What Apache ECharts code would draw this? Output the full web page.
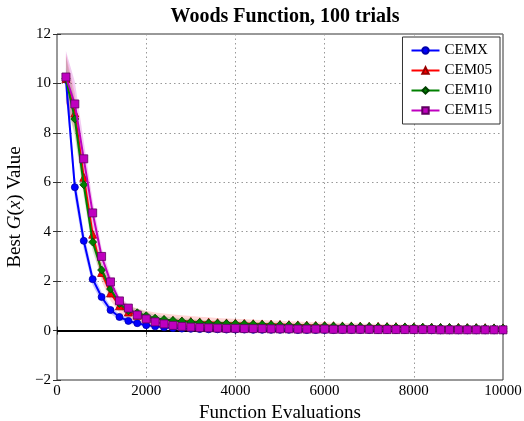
<!DOCTYPE html>
<html>
<head>
<meta charset="utf-8">
<script src="https://cdn.jsdelivr.net/npm/echarts@6/dist/echarts.min.js"></script>
<style>html,body{margin:0;padding:0;background:#fff}#c{width:524px;height:421px}</style>
</head>
<body>
<div id="c"></div>
<script>
const evals = [200,400,600,800,1000,1200,1400,1600,1800,2000,2200,2400,2600,2800,3000,3200,3400,3600,3800,4000,4200,4400,4600,4800,5000,5200,5400,5600,5800,6000,6200,6400,6600,6800,7000,7200,7400,7600,7800,8000,8200,8400,8600,8800,9000,9200,9400,9600,9800,10000];

const cemx  = [10.15,5.8,3.63,2.08,1.36,0.83,0.55,0.39,0.30,0.22,0.17,0.13,0.10,0.08,0.07,0.06,0.05,0.05,0.04,0.04,0.04,0.03,0.03,0.03,0.03,0.03,0.02,0.02,0.02,0.02,0.02,0.02,0.02,0.02,0.02,0.02,0.02,0.02,0.02,0.02,0.02,0.01,0.01,0.01,0.01,0.01,0.01,0.01,0.01,0.01];
const cem05 = [10.2,8.8,6.2,3.9,2.35,1.52,1.0,0.75,0.62,0.54,0.48,0.44,0.41,0.39,0.37,0.35,0.34,0.32,0.31,0.30,0.29,0.28,0.27,0.26,0.25,0.24,0.23,0.22,0.21,0.21,0.20,0.19,0.19,0.18,0.17,0.17,0.16,0.16,0.15,0.15,0.14,0.14,0.13,0.13,0.13,0.12,0.12,0.12,0.11,0.11];
const cem10 = [10.2,8.56,5.9,3.58,2.45,1.68,1.1,0.8,0.72,0.6,0.5,0.45,0.41,0.38,0.35,0.33,0.31,0.30,0.29,0.28,0.27,0.26,0.25,0.24,0.23,0.22,0.21,0.20,0.19,0.19,0.18,0.17,0.17,0.16,0.16,0.15,0.15,0.14,0.14,0.13,0.13,0.12,0.12,0.12,0.11,0.11,0.11,0.10,0.10,0.10];
const cem15 = [10.26,9.17,6.95,4.76,3.0,1.97,1.2,0.91,0.63,0.47,0.35,0.27,0.21,0.17,0.14,0.12,0.11,0.10,0.09,0.09,0.08,0.08,0.08,0.07,0.07,0.07,0.06,0.06,0.06,0.06,0.05,0.05,0.05,0.05,0.05,0.04,0.04,0.04,0.04,0.04,0.04,0.04,0.03,0.03,0.03,0.03,0.03,0.03,0.03,0.03];

const spreadX  = [0.5,0.45,0.35,0.25,0.2,0.15,0.12,0.1,0.09,0.08,0.07,0.06,0.05,0.05,0.04,0.04,0.04,0.04,0.03,0.03,0.03,0.03,0.03,0.03,0.03,0.03,0.03,0.03,0.03,0.03,0.03,0.03,0.03,0.03,0.03,0.03,0.03,0.03,0.03,0.03,0.03,0.03,0.03,0.03,0.03,0.03,0.03,0.03,0.03,0.03];
const spread05 = [1.0,0.8,0.6,0.45,0.35,0.3,0.28,0.27,0.27,0.26,0.25,0.25,0.24,0.23,0.22,0.21,0.2,0.19,0.18,0.18,0.17,0.16,0.16,0.15,0.15,0.14,0.14,0.13,0.13,0.13,0.12,0.12,0.12,0.11,0.11,0.11,0.1,0.1,0.1,0.1,0.1,0.09,0.09,0.09,0.09,0.09,0.08,0.08,0.08,0.08];
const spread10 = [0.9,0.7,0.5,0.38,0.3,0.25,0.2,0.18,0.16,0.15,0.14,0.13,0.13,0.12,0.12,0.11,0.11,0.1,0.1,0.1,0.1,0.09,0.09,0.09,0.09,0.08,0.08,0.08,0.08,0.08,0.07,0.07,0.07,0.07,0.07,0.07,0.06,0.06,0.06,0.06,0.06,0.06,0.06,0.05,0.05,0.05,0.05,0.05,0.05,0.05];
const spread15 = [1.05,0.9,0.7,0.5,0.35,0.25,0.18,0.14,0.11,0.09,0.08,0.07,0.06,0.06,0.05,0.05,0.05,0.04,0.04,0.04,0.04,0.04,0.04,0.04,0.04,0.04,0.03,0.03,0.03,0.03,0.03,0.03,0.03,0.03,0.03,0.03,0.03,0.03,0.03,0.03,0.03,0.03,0.03,0.03,0.03,0.03,0.03,0.03,0.03,0.03];

const names = ['CEMX','CEM05','CEM10','CEM15'];

const F = '"Liberation Serif", "DejaVu Serif", serif';
const defs = [
  {name:names[0], vals:cemx,  sp:spreadX,  color:'#0000ff', band:'rgba(0,0,255,0.22)',  symbol:'circle',   size:7, edge:'#0000aa'},
  {name:names[1], vals:cem05, sp:spread05, color:'#ff0000', band:'rgba(255,0,0,0.16)',  symbol:'triangle', size:8, edge:'#990000'},
  {name:names[2], vals:cem10, sp:spread10, color:'#008000', band:'rgba(0,128,0,0.16)',  symbol:'diamond',  size:8, edge:'#004000'},
  {name:names[3], vals:cem15, sp:spread15, color:'#bf00bf', band:'rgba(191,0,191,0.2)', symbol:'rect',     size:8, edge:'#600060'}
];

const series = [];
defs.forEach((d,k)=>{
  series.push({
    type:'custom', name:'_band'+k, silent:true, z:1, clip:true,
    data:[[evals[0], d.vals[0]]],
    renderItem:function(params, api){
      const pts = [];
      for(let i=0;i<evals.length;i++) pts.push(api.coord([evals[i], d.vals[i]+d.sp[i]]));
      for(let i=evals.length-1;i>=0;i--) pts.push(api.coord([evals[i], d.vals[i]-d.sp[i]]));
      return {type:'polygon', shape:{points:pts}, style:{fill:d.band}};
    }
  });
});
defs.forEach((d,k)=>{
  const s = {type:'line', name:d.name, data:evals.map((x,i)=>[x,d.vals[i]]),
    symbol:d.symbol, symbolSize:d.size, showAllSymbol:true,
    lineStyle:{color:d.color, width:2}, itemStyle:{color:d.color, borderColor:d.edge, borderWidth:0.8},
    z:3+k};
  if(k===0){
    s.markLine = {silent:true, symbol:'none', label:{show:false}, lineStyle:{color:'#000', width:2, type:'solid'}, data:[{yAxis:0}], z:2};
  }
  series.push(s);
});

const fmtMinus = v => String(v).replace('-', '\u2212');

const chart = echarts.init(document.getElementById('c'), null, {renderer:'canvas'});
chart.setOption({
  animation:false,
  backgroundColor:'#fff',
  title:{text:'Woods Function, 100 trials', left:280, top:2, textAlign:'center',
    textStyle:{fontFamily:F, fontSize:20, fontWeight:'bold', color:'#000'}},
  legend:{data:names, orient:'vertical', right:24, top:37, padding:[6,8,6,8], itemGap:5,
    itemWidth:28, itemHeight:8, backgroundColor:'#fff', borderColor:'#333', borderWidth:1,
    textStyle:{fontFamily:F, fontSize:15, color:'#000'}},
  grid:{left:57, right:21, top:34, bottom:41, show:true, borderColor:'#333', borderWidth:1,
    containLabel:false, outerBoundsMode:'none'},
  xAxis:[
    {type:'value', min:0, max:10000, interval:2000, position:'bottom',
     name:'Function Evaluations', nameLocation:'middle', nameGap:20,
     nameTextStyle:{fontFamily:F, fontSize:19, color:'#000'},
     axisLine:{show:false}, axisTick:{show:true, inside:true, length:4, lineStyle:{color:'#333'}},
     axisLabel:{fontFamily:F, fontSize:15, color:'#000', margin:4, formatter:fmtMinus},
     splitLine:{show:true, lineStyle:{color:'#999', type:[1.5,3], width:1}}},
    {type:'value', min:0, max:10000, interval:2000, position:'top',
     axisLine:{show:false}, axisTick:{show:true, inside:true, length:4, lineStyle:{color:'#333'}},
     axisLabel:{show:false}, splitLine:{show:false}}
  ],
  yAxis:[
    {type:'value', min:-2, max:12, interval:2, position:'left',
     name:'Best {i|G}({i|x}) Value', nameLocation:'middle', nameGap:31,
     nameTextStyle:{fontFamily:F, fontSize:19, color:'#000', rich:{i:{fontFamily:F, fontSize:19, fontStyle:'italic', color:'#000'}}},
     axisLine:{show:false}, axisTick:{show:true, inside:true, length:4, lineStyle:{color:'#333'}},
     axisLabel:{fontFamily:F, fontSize:15, color:'#000', margin:6, formatter:fmtMinus},
     splitLine:{show:true, lineStyle:{color:'#999', type:[1.5,3], width:1}}},
    {type:'value', min:-2, max:12, interval:2, position:'right',
     axisLine:{show:false}, axisTick:{show:true, inside:true, length:4, lineStyle:{color:'#333'}},
     axisLabel:{show:false}, splitLine:{show:false}}
  ],
  series:series
});
</script>
</body>
</html>
